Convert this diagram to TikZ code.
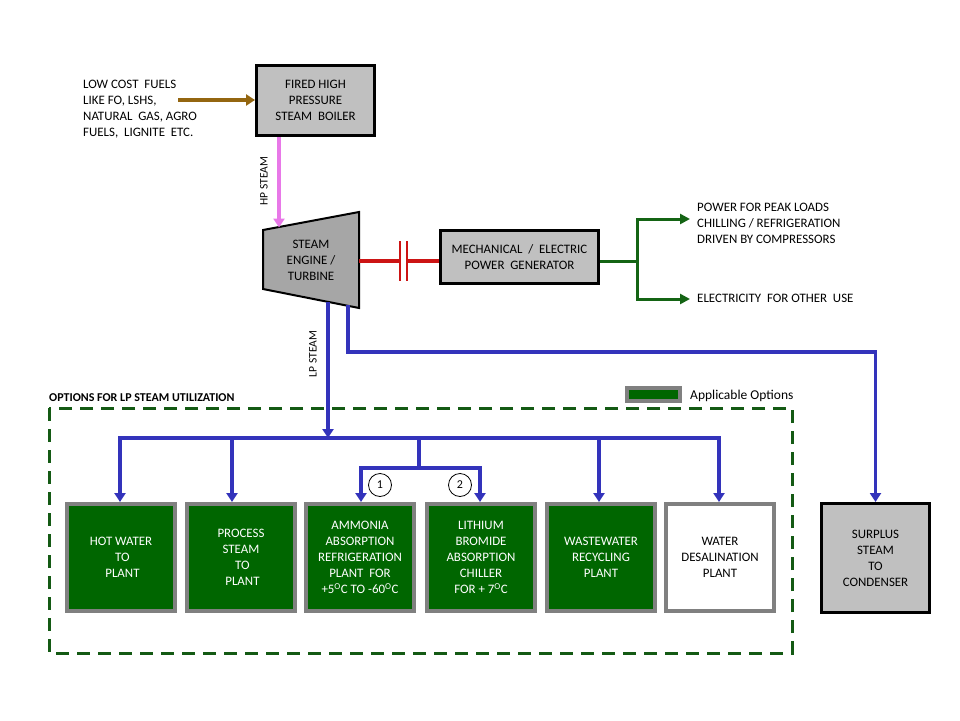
\documentclass[tikz,border=0pt]{standalone}
\usepackage{fontspec}
\setmainfont{Carlito}
\usetikzlibrary{arrows.meta,calc}
\definecolor{boxgray}{RGB}{192,192,192}
\definecolor{optgray}{RGB}{128,128,128}
\definecolor{turbgray}{RGB}{166,166,166}
\definecolor{optgreen}{RGB}{0,102,0}
\definecolor{dashgreen}{RGB}{20,90,20}
\definecolor{lpblue}{RGB}{51,51,187}
\definecolor{hppink}{RGB}{232,120,232}
\definecolor{fuelbrown}{RGB}{148,102,16}
\definecolor{shaftred}{RGB}{204,20,20}
\definecolor{elgreen}{RGB}{20,100,20}
\newcommand{\txt}{\fontsize{12.9}{16}\selectfont}
\begin{document}
\begin{tikzpicture}[x=1pt,y=-1pt,
  mainbox/.style={draw=black,line width=3pt,fill=boxgray,align=center,font=\txt,inner sep=0pt},
  optbox/.style={draw=optgray,line width=4pt,fill=optgreen,text=white,align=center,font=\txt,
    minimum width=108pt,minimum height=107pt,inner sep=0pt},
  plainbox/.style={optbox,fill=white,text=black},
  lbl/.style={align=left,font=\txt,inner sep=0pt},
  blueline/.style={draw=lpblue,line width=3.5pt},
  bluearrow/.style={blueline,-{Triangle[width=11pt,length=9pt]}},
  greenarrow/.style={draw=elgreen,line width=3pt,-{Triangle[width=10pt,length=10pt]}},
  numcirc/.style={circle,draw=black,line width=0.8pt,minimum size=23pt,inner sep=0pt,font=\fontsize{12}{14}\selectfont}
]
\useasboundingbox (0,0) rectangle (960,720);
\fill[white] (0,0) rectangle (960,720);

% fuels
\node[lbl,anchor=west] (fuel) at (83,109) {LOW COST~ FUELS\\LIKE FO, LSHS,\\NATURAL~ GAS, AGRO\\FUELS,~ LIGNITE~ ETC.};
\node[mainbox,minimum width=118pt,minimum height=70pt] (boiler) at (315.5,100.5) {FIRED HIGH\\PRESSURE\\STEAM~ BOILER};
\coordinate (fuelend) at (178,100);
\draw[draw=fuelbrown,line width=3.5pt,-{Triangle[width=11pt,length=9pt]}] (fuelend) -- (boiler.west |- fuelend);

% turbine
\coordinate (tTL) at (263,230);
\coordinate (tTR) at (359,212);
\coordinate (tBR) at (359,308);
\coordinate (tBL) at (263,289);
\filldraw[fill=turbgray,draw=black,line width=2pt] (tTL) -- (tTR) -- (tBR) -- (tBL) -- cycle;
\node[font=\txt,align=center] (turb) at (311,260) {STEAM\\ENGINE /\\TURBINE};
\coordinate (hpin) at (279,227.5);
\draw[draw=hppink,line width=3.5pt,-{Triangle[width=11pt,length=9pt]}] (boiler.south -| hpin) -- (hpin);
\node[font=\fontsize{11.5}{13}\selectfont,rotate=90] (hplbl) at (264,181) {HP STEAM};

% shaft and generator
\node[mainbox,minimum width=158pt,minimum height=53pt] (gen) at (519.5,257) {MECHANICAL~ /~ ELECTRIC\\POWER~ GENERATOR};
\coordinate (shaft) at (359,261);
\coordinate (cplA) at (400,261);
\coordinate (cplB) at (407,261);
\draw[draw=shaftred,line width=3.5pt] (shaft) -- (cplA);
\draw[draw=shaftred,line width=3.5pt] (cplB) -- (gen.west |- shaft);
\draw[draw=shaftred,line width=1.3pt] ($(cplA)+(0,-20)$) -- ($(cplA)+(0,20)$);
\draw[draw=shaftred,line width=1.3pt] ($(cplB)+(0,-20)$) -- ($(cplB)+(0,20)$);

% electrical outputs
\coordinate (gj) at (637,261);
\coordinate (p1) at (690,219);
\coordinate (p2) at (690,299);
\draw[draw=elgreen,line width=3pt] (gen.east |- gj) -- (gj);
\draw[greenarrow] (gj) |- (p1);
\draw[greenarrow] (gj) |- (p2);
\node[lbl,anchor=west] (pwr) at (697,223) {POWER FOR PEAK LOADS\\CHILLING / REFRIGERATION\\DRIVEN BY COMPRESSORS};
\node[lbl,anchor=west] (elec) at (697,298) {ELECTRICITY~ FOR OTHER~ USE};

% options frame
\draw[draw=dashgreen,line width=3pt,dash pattern=on 13pt off 8pt] (49,408) rectangle (792,653);
\node[font=\bfseries\fontsize{12}{14}\selectfont,anchor=west,inner sep=0pt] (optlbl) at (49,398) {OPTIONS FOR LP STEAM UTILIZATION};
\node[draw=optgray,line width=4pt,fill=optgreen,minimum width=53pt,minimum height=13pt,inner sep=0pt] (leg) at (653.5,394.5) {};
\node[font=\fontsize{13.5}{16}\selectfont,anchor=west,inner sep=0pt] (legtxt) at (690,395.5) {Applicable Options};

% option boxes
\node[optbox] (o1) at (121,557.5) {HOT WATER\\~TO\\~PLANT};
\node[optbox] (o2) at (241,557.5) {PROCESS\\STEAM\\~TO\\~PLANT};
\node[optbox] (o3) at (360,557.5) {AMMONIA\\ABSORPTION\\REFRIGERATION\\PLANT~ FOR\\+5\textsuperscript{O}C TO -60\textsuperscript{O}C};
\node[optbox] (o4) at (481,557.5) {LITHIUM\\BROMIDE\\ABSORPTION\\CHILLER\\FOR + 7\textsuperscript{O}C};
\node[optbox] (o5) at (601,557.5) {WASTEWATER\\RECYCLING\\PLANT};
\node[plainbox] (o6) at (720,557.5) {WATER\\DESALINATION\\PLANT};
\node[mainbox,minimum width=108pt,minimum height=109pt] (surp) at (875.5,558) {SURPLUS\\STEAM\\TO\\CONDENSER};

% LP steam distribution
\coordinate (lpout) at (328,302);
\coordinate (bus) at (328,438);
\coordinate (b1) at (120,438);
\coordinate (b2) at (232,438);
\coordinate (b5) at (599,438);
\coordinate (b6) at (719,438);
\coordinate (sub) at (419,438);
\coordinate (subj) at (419,468);
\coordinate (s3) at (361,468);
\coordinate (s4) at (480,468);
\draw[bluearrow] (lpout) -- (bus);
\node[font=\fontsize{11.5}{13}\selectfont,rotate=90] (lplbl) at (313,354) {LP STEAM};
\draw[blueline,line cap=rect] (b1) -- (b6);
\draw[bluearrow] (b1) -- (o1.north -| b1);
\draw[bluearrow] (b2) -- (o2.north -| b2);
\draw[bluearrow] (b5) -- (o5.north -| b5);
\draw[bluearrow] (b6) -- (o6.north -| b6);
\draw[blueline] (sub) -- (subj);
\draw[blueline,line cap=rect] (s3) -- (s4);
\draw[bluearrow] (s3) -- (o3.north -| s3);
\draw[bluearrow] (s4) -- (o4.north -| s4);
\node[numcirc] (n1) at (380,485) {1};
\node[numcirc] (n2) at (460,485) {2};

% surplus steam
\coordinate (surpout) at (348,305);
\coordinate (surpc) at (348,352);
\draw[bluearrow] (surpout) -- (surpc) -- (surpc -| surp.north) -- (surp.north);
\end{tikzpicture}
\end{document}
